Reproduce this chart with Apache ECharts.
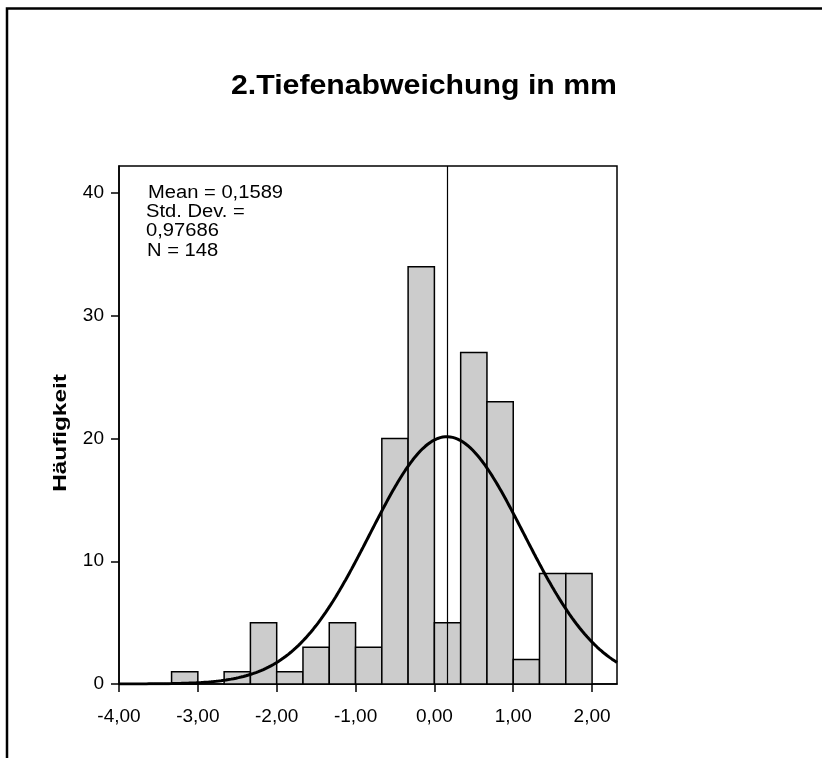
<!DOCTYPE html>
<html>
<head>
<meta charset="utf-8">
<script src="https://cdn.jsdelivr.net/npm/echarts@6/dist/echarts.min.js"></script>
<style>
  html, body { margin: 0; padding: 0; background: #ffffff; }
  #chart { width: 822px; height: 758px; }
</style>
</head>
<body>
<div id="chart"></div>
<script>
// Histogram of the second depth deviation (mm), bin width 1/3 mm
const binWidth = 1 / 3;
const binLower = [-3.3333, -2.6667, -2.3333, -2.0, -1.6667, -1.3333, -1.0, -0.6667, -0.3333, 0.0, 0.3333, 0.6667, 1.0, 1.3333, 1.6667];
const counts   = [1, 1, 5, 1, 3, 5, 3, 20, 34, 5, 27, 23, 2, 9, 9];

// Summary statistics shown in the legend box
const meanValue = 0.1589;
const stdDev = 0.97686;
const nTotal = 148;

// Axis ticks
const xTicks = [-4, -3, -2, -1, 0, 1, 2];
const yTicks = [0, 10, 20, 30, 40];

const fmtComma = (v, d) => v.toFixed(d).replace('.', ',');

// Fitted normal curve scaled to counts per bin
const xMin = -4, xMax = 2.316;
const curve = [];
for (let i = 0; i <= 400; i++) {
  const x = xMin + (xMax - xMin) * i / 400;
  const z = (x - meanValue) / stdDev;
  const y = nTotal * binWidth / (stdDev * Math.sqrt(2 * Math.PI)) * Math.exp(-0.5 * z * z);
  curve.push([x, y]);
}

const histData = binLower.map((lo, i) => [lo, lo + binWidth, counts[i]]);

const FONT = '"Liberation Sans", Arial, sans-serif';

// Text block helper: left-aligned, vertically centred, slightly widened
function label(x, y, text) {
  return {
    type: 'text', x: x, y: y, scaleX: 1.12,
    style: { x: 0, y: 0, text: text, font: '18px ' + FONT, fill: '#000', verticalAlign: 'middle' }
  };
}

const chart = echarts.init(document.getElementById('chart'), null, { renderer: 'canvas' });
chart.setOption({
  animation: false,
  backgroundColor: '#ffffff',
  grid: {
    left: 119, top: 166, width: 498, height: 518,
    show: true, borderColor: '#000000', borderWidth: 1.5, backgroundColor: 'transparent'
  },
  xAxis: {
    type: 'value', min: xMin, max: xMax, interval: 1,
    splitLine: { show: false },
    axisLine: { show: true, onZero: false, lineStyle: { color: '#000', width: 1.5 } },
    axisTick: { show: true, length: 8, lineStyle: { color: '#000', width: 1.5 }, customValues: xTicks },
    axisLabel: {
      customValues: xTicks, margin: 23, color: '#000', fontSize: 19, fontFamily: FONT,
      formatter: v => fmtComma(v, 2)
    }
  },
  yAxis: {
    type: 'value', min: 0, max: 42.2, interval: 10,
    splitLine: { show: false },
    axisLine: { show: true, onZero: false, lineStyle: { color: '#000', width: 1.5 } },
    axisTick: { show: true, length: 8, lineStyle: { color: '#000', width: 1.5 }, customValues: yTicks },
    axisLabel: { customValues: yTicks, margin: 15, color: '#000', fontSize: 19, fontFamily: FONT }
  },
  series: [
    {
      type: 'custom',
      z: 2,
      data: histData,
      encode: { x: [0, 1], y: 2 },
      renderItem: function (params, api) {
        const lo = api.value(0), hi = api.value(1), c = api.value(2);
        if (!c) return null;
        const p0 = api.coord([lo, 0]);
        const p1 = api.coord([hi, c]);
        return {
          type: 'rect',
          shape: { x: p0[0], y: p1[1], width: p1[0] - p0[0], height: p0[1] - p1[1] },
          style: { fill: '#cccccc', stroke: '#000000', lineWidth: 1.5 }
        };
      }
    },
    {
      type: 'line',
      z: 3,
      data: [],
      markLine: {
        silent: true,
        symbol: ['none', 'none'],
        label: { show: false },
        lineStyle: { color: '#000', width: 1.2, type: 'solid' },
        data: [{ xAxis: meanValue }]
      }
    },
    {
      type: 'line',
      z: 4,
      data: curve,
      showSymbol: false,
      smooth: false,
      lineStyle: { color: '#000', width: 3 }
    }
  ],
  graphic: [
    {
      type: 'rect',
      shape: { x: 7, y: 8.5, width: 900, height: 900 },
      style: { fill: 'none', stroke: '#000', lineWidth: 2.5 }
    },
    {
      type: 'text', x: 424, y: 87, scaleX: 1.12,
      style: {
        x: 0, y: 0, text: '2.Tiefenabweichung in mm',
        font: 'bold 27px ' + FONT, fill: '#000', align: 'center', verticalAlign: 'middle'
      }
    },
    {
      type: 'text',
      rotation: Math.PI / 2,
      x: 61, y: 433, scaleX: 1.28,
      style: {
        x: 0, y: 0, text: 'Häufigkeit',
        font: 'bold 19px ' + FONT, fill: '#000', align: 'center', verticalAlign: 'middle'
      }
    },
    label(148, 193, 'Mean = ' + fmtComma(meanValue, 4)),
    label(146, 212, 'Std. Dev. ='),
    label(146, 231, fmtComma(stdDev, 5)),
    label(147, 251, 'N = ' + nTotal)
  ]
});
</script>
</body>
</html>
